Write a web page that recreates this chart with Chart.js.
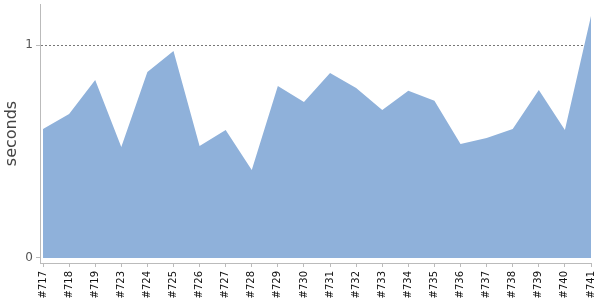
<!DOCTYPE html>
<html>
<head>
<meta charset="utf-8">
<script src="https://cdn.jsdelivr.net/npm/chart.js@4/dist/chart.umd.min.js"></script>
<style>
  body { margin: 0; background: #fff; }
  #wrap { width: 600px; height: 300px; }
</style>
</head>
<body>
<div id="wrap"><canvas id="chart"></canvas></div>
<script>
const builds = ['#717', '#718', '#719', '#723', '#724', '#725', '#726', '#727', '#728', '#729', '#730',
  '#731', '#732', '#733', '#734', '#735', '#736', '#737', '#738', '#739', '#740', '#741'];
const seconds = [0.606, 0.676, 0.836, 0.521, 0.873, 0.972, 0.526, 0.601, 0.413, 0.808, 0.732,
  0.869, 0.798, 0.695, 0.785, 0.738, 0.535, 0.563, 0.606, 0.789, 0.601, 1.136];
const yTicks = [0, 1];

const ctx = document.getElementById('chart').getContext('2d');
new Chart(ctx, {
  type: 'line',
  data: {
    datasets: [{
      data: seconds.map((v, i) => ({ x: i, y: v })),
      fill: 'origin',
      backgroundColor: '#8fb1da',
      borderWidth: 0,
      pointRadius: 0,
      tension: 0,
    }],
  },
  options: {
    responsive: true,
    maintainAspectRatio: false,
    animation: false,
    layout: { padding: { top: 4, right: 9, bottom: 0, left: 0 } },
    plugins: { legend: { display: false }, tooltip: { enabled: false } },
    scales: {
      x: {
        type: 'linear',
        min: -0.115,
        max: builds.length - 1,
        afterBuildTicks: (scale) => { scale.ticks = builds.map((_, i) => ({ value: i })); },
        afterFit: (scale) => {
          scale.height = 37;
          scale.paddingLeft = 0;
          scale.paddingRight = 0;
        },
        ticks: {
          autoSkip: false,
          minRotation: 90,
          maxRotation: 90,
          padding: 4,
          color: '#111',
          font: { family: 'DejaVu Sans', size: 10 },
          callback: (v) => builds[v],
        },
        grid: { drawOnChartArea: false, tickLength: 4, color: '#bbb' },
        border: { color: '#bbb' },
      },
      y: {
        min: -0.0235,
        max: 1.1925,
        afterBuildTicks: (scale) => { scale.ticks = yTicks.map((v) => ({ value: v })); },
        afterFit: (scale) => {
          scale.width = 40;
          scale.paddingTop = 0;
          scale.paddingBottom = 0;
        },
        ticks: {
          padding: 3,
          color: '#555',
          font: { family: 'DejaVu Sans', size: 12 },
        },
        grid: {
          tickLength: 4,
          tickColor: '#bbb',
          color: (c) => (c.tick && c.tick.value === 1 ? '#777' : 'rgba(0,0,0,0)'),
        },
        border: { color: '#bbb', dash: [2, 2] },
        title: {
          display: true,
          text: 'seconds',
          color: '#444',
          font: { family: 'DejaVu Sans', size: 16 },
          padding: { top: 2, bottom: 0 },
        },
      },
    },
  },
});
</script>
</body>
</html>
